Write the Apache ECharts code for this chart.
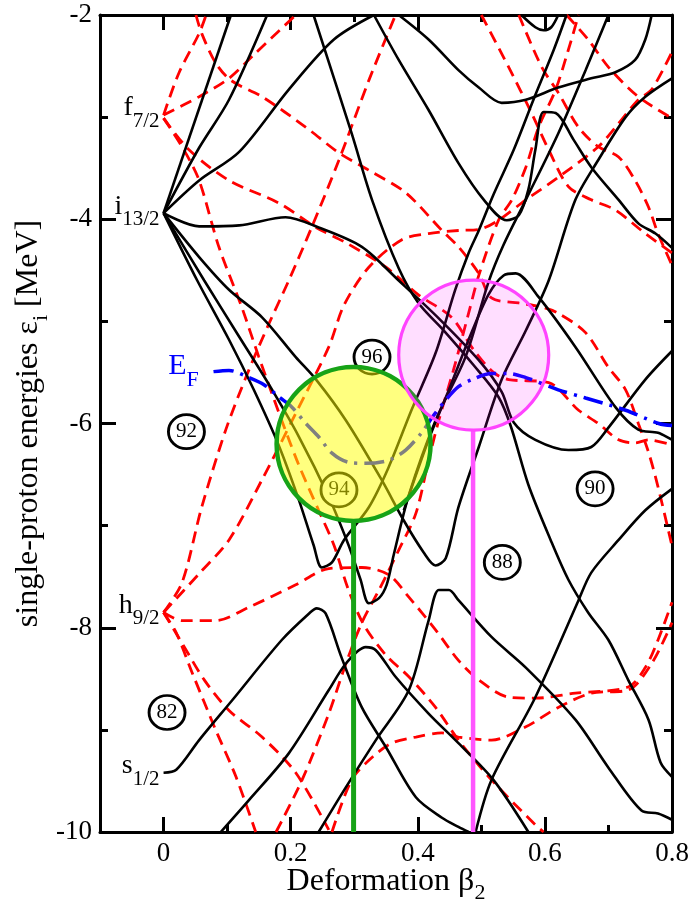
<!DOCTYPE html>
<html><head><meta charset="utf-8">
<script src="https://cdn.jsdelivr.net/npm/echarts@6.0.0/dist/echarts.min.js"></script>
<style>html,body{margin:0;padding:0;background:#fff}#c{width:692px;height:906px}</style>
</head><body><div id="c"></div>
<script>
// ---------- axis ticks ----------
const xMajorTicks = [0, 0.2, 0.4, 0.6, 0.8];
const xMinorTicks = [0.1, 0.3, 0.5, 0.7];

// ---------- positive parity levels (solid black) ----------
const bA = [[0,-3.94],[0.106,-2]];
const bB = [[0,-3.94],[0.056,-3.30],[0.103,-2.83],[0.163,-2]];
const bC = [[0,-3.94],[0.056,-3.62],[0.119,-3.34],[0.197,-2.73],[0.268,-2.24],[0.331,-2]];
const bE = [[0.236,-2],[0.296,-3.16],[0.328,-3.81],[0.370,-4.48],[0.401,-4.82],[0.441,-5.09],[0.488,-5.43],[0.527,-5.74],[0.546,-6.02],[0.574,-6.60],[0.609,-7.14],[0.637,-7.53],[0.668,-7.85],[0.700,-8.12],[0.731,-8.51],[0.763,-8.90],[0.782,-9.32],[0.8,-9.46]];
const bF = [[0.370,-2],[0.417,-2.24],[0.464,-2.54],[0.496,-2.71],[0.532,-2.86],[0.570,-2.83],[0.621,-2.71],[0.673,-2.62],[0.711,-2.56],[0.742,-2.44],[0.758,-2.24],[0.768,-2]];
const bD = [[0.331,-2],[0.370,-2.44],[0.417,-2.93],[0.464,-3.45],[0.504,-3.81],[0.540,-4.01],[0.559,-3.96],[0.574,-3.71],[0.585,-3.32],[0.598,-2.95],[0.617,-2.96],[0.645,-3.22],[0.673,-3.49],[0.716,-3.81],[0.747,-4.04],[0.774,-4.14],[0.8,-4.28]];
const bU = [[0.563,-2],[0.585,-2.12],[0.598,-2.15],[0.610,-2.12],[0.621,-2]];
const bG = [[0,-3.94],[0.056,-4.07],[0.119,-4.06],[0.192,-3.98],[0.244,-4.08],[0.312,-4.27],[0.370,-4.60],[0.433,-4.97],[0.496,-5.38],[0.532,-5.69],[0.551,-5.99],[0.585,-6.16],[0.637,-6.26],[0.673,-6.23],[0.700,-6.04],[0.758,-5.57],[0.8,-5.29]];
const bH = [[0,-3.94],[0.056,-4.37],[0.103,-4.69],[0.155,-4.96],[0.208,-5.35],[0.240,-5.57],[0.287,-5.97],[0.343,-6.55],[0.378,-6.95],[0.409,-7.26],[0.428,-7.39],[0.444,-7.32],[0.464,-6.82],[0.496,-6.23],[0.532,-5.57],[0.570,-5.09],[0.606,-4.60],[0.648,-3.81],[0.684,-3.42],[0.727,-3.00],[0.758,-2.80],[0.8,-2.62]];
const bV1 = [[0,-3.94],[0.053,-4.60],[0.103,-5.18],[0.142,-5.67],[0.181,-6.21],[0.213,-6.75],[0.236,-7.19],[0.249,-7.41],[0.265,-7.36],[0.284,-7.14],[0.323,-6.82],[0.354,-6.43],[0.390,-5.87],[0.428,-5.31],[0.459,-4.69],[0.480,-4.33],[0.496,-4.11],[0.519,-3.76],[0.551,-3.32],[0.582,-2.83],[0.614,-2.34],[0.634,-2]];
const bV2 = [[0,-3.94],[0.064,-4.60],[0.119,-5.15],[0.166,-5.62],[0.213,-6.13],[0.260,-6.72],[0.291,-7.19],[0.310,-7.53],[0.323,-7.76],[0.339,-7.71],[0.351,-7.58],[0.362,-7.29],[0.386,-6.70],[0.428,-5.97],[0.475,-5.35],[0.511,-4.62],[0.535,-4.25],[0.570,-3.81],[0.621,-3.16],[0.664,-2.54],[0.700,-2]];
const bK = [[0.378,-6.85],[0.417,-6.16],[0.449,-5.67],[0.480,-5.18],[0.511,-4.74],[0.535,-4.55],[0.554,-4.53],[0.590,-4.76],[0.648,-5.25],[0.711,-5.84],[0.747,-6.06],[0.778,-6.09],[0.8,-6.16]];
const bS = [[0,-9.42],[0.020,-9.39],[0.056,-9.10],[0.108,-8.71],[0.186,-8.12],[0.229,-7.86],[0.241,-7.81],[0.255,-7.86],[0.280,-8.29],[0.312,-8.78],[0.350,-9.17],[0.397,-9.66],[0.438,-9.86],[0.464,-9.95],[0.480,-10]];
const bP2 = [[0.090,-10],[0.134,-9.69],[0.197,-9.23],[0.260,-8.61],[0.287,-8.35],[0.318,-8.19],[0.334,-8.22],[0.365,-8.48],[0.417,-8.84],[0.464,-9.13],[0.519,-9.49],[0.574,-10]];
const bP3 = [[0.244,-10],[0.287,-9.56],[0.334,-9.10],[0.386,-8.61],[0.417,-7.93],[0.433,-7.63],[0.449,-7.63],[0.464,-7.73],[0.516,-8.09],[0.570,-8.39],[0.648,-8.90],[0.700,-9.37],[0.752,-9.79],[0.778,-9.82],[0.8,-9.88]];
const bR = [[0.491,-10],[0.516,-9.49],[0.585,-8.68],[0.653,-7.73],[0.673,-7.46],[0.716,-7.14],[0.758,-6.85],[0.8,-6.64]];

// ---------- negative parity levels (dashed red) ----------
const rf1 = [[0,-2.98],[0.024,-2.57],[0.056,-2.18],[0.067,-2]];
const rf2 = [[0,-2.98],[0.056,-2.80],[0.103,-2.62],[0.142,-2.39],[0.208,-2]];
const rf3 = [[0.051,-2],[0.060,-2.18],[0.082,-2.47],[0.106,-2.64],[0.155,-2.80],[0.224,-3.10],[0.276,-3.35],[0.323,-3.52],[0.381,-3.74],[0.438,-4.11],[0.464,-4.27],[0.496,-4.53],[0.516,-4.77],[0.559,-4.82],[0.595,-4.86],[0.621,-4.92],[0.664,-5.11],[0.700,-5.45],[0.727,-5.67],[0.747,-6.00],[0.763,-6.28],[0.778,-6.62],[0.8,-7.2]];
const rfc = [[0,-3.01],[0.040,-3.32],[0.103,-3.62],[0.181,-3.84],[0.240,-4.08],[0.287,-4.23],[0.350,-4.47],[0.401,-4.74],[0.453,-4.96],[0.488,-5.28],[0.519,-5.50],[0.543,-5.57],[0.606,-5.60],[0.653,-5.87],[0.684,-6.00],[0.716,-6.16],[0.742,-6.19],[0.763,-6.16],[0.8,-6.21]];
const rfd = [[0,-3.01],[0.032,-3.32],[0.056,-3.62],[0.087,-4.27],[0.123,-4.86],[0.150,-5.35],[0.186,-5.97],[0.213,-6.41],[0.244,-6.85],[0.268,-7.19],[0.291,-7.63],[0.315,-7.97],[0.350,-8.27],[0.386,-8.48],[0.428,-8.78],[0.464,-9.10],[0.516,-9.49],[0.585,-9.93],[0.598,-10]];
const rha = [[0,-7.85],[0.029,-7.56],[0.060,-6.82],[0.098,-6.06],[0.134,-5.48],[0.166,-5.02],[0.197,-4.60],[0.233,-4.08],[0.276,-3.42],[0.323,-2.64],[0.365,-2]];
const rhb = [[0,-7.85],[0.056,-7.47],[0.103,-7.14],[0.155,-6.55],[0.208,-5.90],[0.260,-5.25],[0.284,-4.84],[0.323,-4.47],[0.375,-4.20],[0.417,-4.14],[0.464,-4.11],[0.496,-4.10],[0.527,-4.01],[0.570,-3.81],[0.621,-3.59],[0.684,-3.29],[0.711,-3.10],[0.747,-2.83],[0.768,-2.73],[0.8,-2.36]];
const rmid = [[0.177,-10],[0.218,-9.49],[0.260,-8.84],[0.287,-8.35],[0.312,-7.95],[0.339,-7.63],[0.370,-7.24],[0.397,-6.88],[0.417,-6.36],[0.433,-5.97],[0.456,-5.48],[0.480,-4.92],[0.496,-4.55],[0.527,-4.01],[0.548,-3.81],[0.570,-3.49],[0.590,-3.10],[0.617,-2.73],[0.637,-2.34],[0.653,-2]];
const rtop2 = [[0.500,-2],[0.543,-2.51],[0.579,-2.96],[0.606,-3.32],[0.637,-3.68],[0.673,-3.81],[0.711,-3.91],[0.758,-4.14],[0.8,-4.33]];
const rtop3 = [[0.559,-2],[0.595,-2.51],[0.621,-2.76],[0.653,-3.10],[0.684,-3.29],[0.716,-3.39],[0.742,-3.62],[0.763,-3.88],[0.778,-4.14],[0.8,-4.45]];
const rtop4 = [[0.634,-2],[0.668,-2.24],[0.700,-2.51],[0.747,-2.80],[0.8,-3.01]];
const rhl1 = [[0,-7.85],[0.020,-8.05],[0.045,-8.44],[0.082,-9.00],[0.114,-9.46],[0.145,-10]];
const rhl2 = [[0,-7.85],[0.029,-8.15],[0.064,-8.51],[0.103,-8.81],[0.155,-9.07],[0.208,-9.42],[0.260,-9.98]];
const rhArc = [[0,-7.85],[0.029,-7.93],[0.082,-7.93],[0.134,-7.80],[0.208,-7.58],[0.260,-7.42],[0.312,-7.41],[0.354,-7.48],[0.386,-7.70],[0.428,-8.02],[0.464,-8.32],[0.496,-8.51],[0.543,-8.68],[0.585,-8.69],[0.648,-8.64],[0.731,-8.58],[0.758,-8.39],[0.778,-8.12],[0.8,-7.75]];
const rLow = [[0.265,-10],[0.296,-9.49],[0.328,-9.27],[0.359,-9.13],[0.397,-9.07],[0.438,-9.03],[0.464,-9.07],[0.516,-9.10],[0.570,-8.97],[0.621,-8.78],[0.673,-8.64],[0.731,-8.61],[0.768,-8.35],[0.8,-7.95]];

// ---------- Fermi energy ----------
const fermiLine = [[0.068,-5.50],[0.103,-5.48],[0.134,-5.55],[0.158,-5.62],[0.1815,-5.74],[0.202,-5.84],[0.224,-6.00],[0.244,-6.13],[0.265,-6.29],[0.291,-6.38],[0.318,-6.39],[0.354,-6.36],[0.381,-6.26],[0.406,-6.09],[0.425,-5.92],[0.444,-5.77],[0.464,-5.64],[0.485,-5.57],[0.516,-5.51],[0.543,-5.51],[0.570,-5.55],[0.621,-5.67],[0.664,-5.75],[0.727,-5.87],[0.779,-6.00],[0.8,-6.02]];

// ---------- labels ----------
const levelNames = ['f','i','h','s'];
const levelSubs = ['7/2','13/2','9/2','1/2'];
const levelEnergies = [-2.98,-3.94,-7.85,-9.42];
const gapNumbers = ['92','96','94','90','88','82'];
const gapPositions = [[0.036,-6.08],[0.328,-5.35],[0.276,-6.65],[0.679,-6.64],[0.533,-7.36],[0.0055,-8.83]];
const xTitle = ['Deformation β', '2'];
const yTitle = ['single-proton energies ε', 'i', ' [MeV]'];
const fermiTitle = ['E', 'F'];

// ---------- highlight circles ----------
const yellowCenter = [0.299,-6.20];
const yellowStem = [[0.299,-6.96],[0.299,-10]];
const pinkCenter = [0.488,-5.33];
const pinkStem = [[0.487,-6.06],[0.487,-10]];

const blackLevels = [bA,bB,bC,bE,bF,bD,bU,bG,bH,bV1,bV2,bK,bS,bP2,bP3,bR];
const redLevels = [rf1,rf2,rf3,rfc,rfd,rha,rhb,rmid,rtop2,rtop3,rtop4,rhl1,rhl2,rhArc,rLow];

const FONT = "'Liberation Serif','Times New Roman','DejaVu Serif',serif";
const chart = echarts.init(document.getElementById('c'), null, {renderer:'canvas'});

const series = [];
redLevels.forEach(d => series.push({
  type:'line', data:d, symbol:'none', smooth:0.3, silent:true, z:2,
  lineStyle:{color:'#ff0000', width:2.8, type:[12,7]}
}));
blackLevels.forEach(d => series.push({
  type:'line', data:d, symbol:'none', smooth:0.3, silent:true, z:2,
  lineStyle:{color:'#000', width:2.6}
}));
series.push({
  type:'line', data:fermiLine, symbol:'none', smooth:0.3, silent:true, z:3,
  lineStyle:{color:'#0000ff', width:3.5, type:[20,7,3,7], dashOffset:30}
});
series.push({
  type:'scatter', data:gapPositions.map((p,i)=>[p[0],p[1],gapNumbers[i]]), symbol:'circle', symbolSize:[36,34], silent:true, z:5,
  itemStyle:{color:'#fff', borderColor:'#000', borderWidth:2.8, opacity:1},
  label:{show:true, position:'inside', formatter:p=>p.value[2], fontSize:21, fontFamily:FONT, color:'#000'}
});
series.push({
  type:'line', data:yellowStem, symbol:'none', silent:true, z:9,
  lineStyle:{color:'#17a317', width:5}
});
series.push({
  type:'line', data:pinkStem, symbol:'none', silent:true, z:9,
  lineStyle:{color:'#ff55ff', width:4.5}
});
series.push({
  type:'scatter', data:[yellowCenter], symbol:'circle', symbolSize:154, silent:true, z:10,
  itemStyle:{color:'rgba(255,255,0,0.5)', borderColor:'#17a317', borderWidth:4.5, opacity:1}
});
series.push({
  type:'scatter', data:[pinkCenter], symbol:'circle', symbolSize:150, silent:true, z:10,
  itemStyle:{color:'rgba(255,0,255,0.13)', borderColor:'#ff44ff', borderWidth:3.2, opacity:1}
});

const axLine = {show:true, onZero:false, lineStyle:{color:'#000', width:3}};
const tickStyle = {color:'#000', width:3};
const xBase = {type:'value', min:-0.1, max:0.8, splitLine:{show:false}};

chart.setOption({
  animation:false,
  backgroundColor:'#fff',
  grid:{left:100, right:20, top:15, bottom:74, containLabel:false},
  xAxis:[
    Object.assign({}, xBase, {
      position:'bottom', axisLine:axLine,
      axisTick:{show:true, inside:true, length:15, lineStyle:tickStyle, customValues:xMajorTicks},
      axisLabel:{show:true, customValues:xMajorTicks, fontSize:27, fontFamily:FONT, color:'#000', margin:8}
    }),
    Object.assign({}, xBase, {
      position:'bottom', axisLine:{show:false},
      axisTick:{show:true, inside:true, length:7, lineStyle:tickStyle, customValues:xMinorTicks},
      axisLabel:{show:false}
    }),
    Object.assign({}, xBase, {
      position:'top', axisLine:axLine,
      axisTick:{show:true, inside:true, length:15, lineStyle:tickStyle, customValues:xMajorTicks},
      axisLabel:{show:false}
    }),
    Object.assign({}, xBase, {
      position:'top', axisLine:{show:false},
      axisTick:{show:true, inside:true, length:7, lineStyle:tickStyle, customValues:xMinorTicks},
      axisLabel:{show:false}
    })
  ],
  yAxis:[
    {type:'value', min:-10, max:-2, interval:2, position:'left', axisLine:axLine, splitLine:{show:false},
     axisTick:{show:true, inside:true, length:16, lineStyle:tickStyle},
     minorTick:{show:true, splitNumber:2, length:8, lineStyle:tickStyle},
     axisLabel:{fontSize:27, fontFamily:FONT, color:'#000', margin:8}
    },
    {type:'value', min:-10, max:-2, interval:2, position:'right', axisLine:axLine, splitLine:{show:false},
     axisTick:{show:true, inside:true, length:16, lineStyle:tickStyle},
     minorTick:{show:true, splitNumber:2, length:8, lineStyle:tickStyle},
     axisLabel:{show:false}
    }
  ],
  series: series
});

// ---------- text with subscripts (positioned through the chart's scales) ----------
const meas = document.createElement('canvas').getContext('2d');
function tw(t, size){ meas.font = size + 'px ' + FONT; return meas.measureText(t).width; }
function txt(t, x, baseline, size, color, align, rot){
  const mid = baseline - 0.32 * size;
  const el = {type:'text', silent:true, z:100, x:x, y:mid,
    style:{text:t, x:0, y:0, fontSize:size, fontFamily:FONT, fill:color,
      align:align, verticalAlign:'middle', textAlign:align, textVerticalAlign:'middle'}};
  if (rot) { el.rotation = rot; el.x = baseline - 0.32 * size; el.y = x; }
  return el;
}
const toPx = p => chart.convertToPixel({gridIndex:0}, p);
const g = [];
const corner0 = toPx([-0.1,-10]);
const corner1 = toPx([0.8,-2]);

levelEnergies.forEach((e,i)=>{
  const p = toPx([0,e]);
  const right = p[0] - 4;
  const base = p[1] + 2;
  g.push(txt(levelSubs[i], right, base + 11, 21, '#000', 'right'));
  g.push(txt(levelNames[i], right - tw(levelSubs[i],21), base, 28, '#000', 'right'));
});

const f0 = toPx(fermiLine[0]);
const fRight = f0[0] - 8;
g.push(txt(fermiTitle[1], fRight, f0[1] + 15, 22, '#0000ff', 'right'));
g.push(txt(fermiTitle[0], fRight - tw(fermiTitle[1],22), f0[1] + 3, 30, '#0000ff', 'right'));

const xw1 = tw(xTitle[0],32), xw2 = tw(xTitle[1],22);
const xStart = (corner0[0] + corner1[0]) / 2 - (xw1 + xw2) / 2;
g.push(txt(xTitle[0], xStart, corner0[1] + 60, 32, '#000', 'left'));
g.push(txt(xTitle[1], xStart + xw1, corner0[1] + 68, 22, '#000', 'left'));

const yw1 = tw(yTitle[0],32), yw2 = tw(yTitle[1],22), yw3 = tw(yTitle[2],32);
const yMid = (corner0[1] + corner1[1]) / 2;
const yStart = yMid + (yw1 + yw2 + yw3) / 2;
g.push(txt(yTitle[0], yStart, 39, 32, '#000', 'left', Math.PI/2));
g.push(txt(yTitle[1], yStart - yw1, 48, 22, '#000', 'left', Math.PI/2));
g.push(txt(yTitle[2], yStart - yw1 - yw2, 39, 32, '#000', 'left', Math.PI/2));

chart.setOption({graphic: g});
</script></body></html>
